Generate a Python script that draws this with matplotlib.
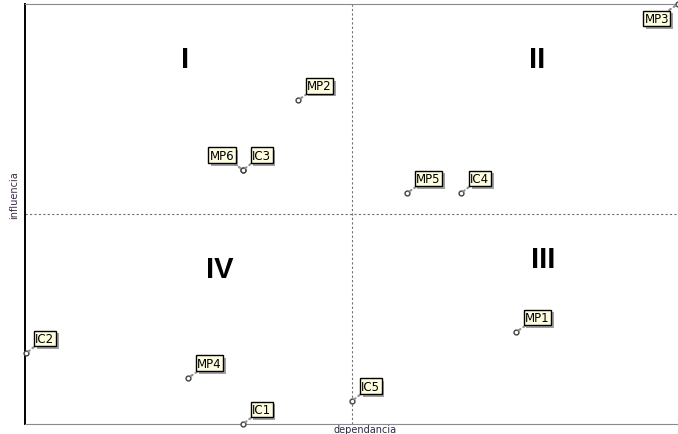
import matplotlib
matplotlib.use("Agg")
from matplotlib import pyplot as plt
from matplotlib import patheffects as pe

# positions sur le plan influence / dependance (echelle 0-100)
noms = ["MP3", "MP2", "MP6", "IC3", "MP5", "IC4", "MP1", "IC2", "MP4", "IC5", "IC1"]
dependance = [100.0, 41.8, 33.4, 33.4, 58.5, 66.8, 75.2, 0.2, 25.0, 50.1, 33.4]
influence = [100.0, 77.1, 60.5, 60.5, 55.0, 55.0, 21.9, 16.9, 11.0, 5.5, 0.0]
# cote de l'etiquette : droite (1) ou gauche (-1), haut (1) ou bas (-1)
cote_x = [-1, 1, -1, 1, 1, 1, 1, 1, 1, 1, 1]
cote_y = [-1, 1, 1, 1, 1, 1, 1, 1, 1, 1, 1]

quadrants = ["I", "II", "III", "IV"]
quad_x = [24.5, 78.5, 79.3, 29.9]
quad_y = [87.0, 87.0, 39.3, 37.0]

plt.rcParams['font.family'] = ['DejaVu Sans']

fig = plt.figure(figsize=(6.78, 4.35), dpi=100)
ax = fig.add_axes([25/678, 10/435, 653/678, 420/435])
ax.set_xlim(0, 100)
ax.set_ylim(0, 100)
ax.set_xticks([])
ax.set_yticks([])

ax.spines['left'].set_linewidth(1.4)
ax.spines['left'].set_color('black')
ax.spines['bottom'].set_color('#8a8a8a')
ax.spines['top'].set_color('#8a8a8a')
ax.spines['right'].set_visible(False)

# axes des quadrants
ax.axvline(50, color='#707070', linestyle=(0, (2, 2)), linewidth=0.8)
ax.axhline(50, color='#707070', linestyle=(0, (2, 2)), linewidth=0.8)

for q, qx, qy in zip(quadrants, quad_x, quad_y):
    ax.text(qx, qy, q, fontsize=21, fontweight='bold', ha='center', va='center',
            family='Liberation Sans')

ax.plot(dependance, influence, 'o', markersize=3.5, markerfacecolor='white',
        markeredgecolor='#404040', markeredgewidth=1, clip_on=False, zorder=5)

for n, x, y, cx, cy in zip(noms, dependance, influence, cote_x, cote_y):
    dx = 9 * cx
    dy = 8 * cy
    ha = 'left' if cx > 0 else 'right'
    va = 'bottom' if cy > 0 else 'top'
    t = ax.annotate(n, (x, y), xytext=(dx, dy), textcoords='offset pixels',
                    ha=ha, va=va, fontsize=8.5, color='black',
                    bbox=dict(boxstyle='square,pad=0.12', fc='#fffde0', ec='black', lw=1),
                    arrowprops=dict(arrowstyle='-', color='#909090', linestyle=':', lw=1.5,
                                    shrinkA=0, shrinkB=2),
                    annotation_clip=False, zorder=7)
    t.get_bbox_patch().set_path_effects([pe.SimplePatchShadow(offset=(2, -2), shadow_rgbFace='#8a8a8a', alpha=0.8),
                                         pe.Normal()])

fig.text(365/678, 0.0, "dependancia", ha='center', va='bottom',
         fontsize=7, color='#2a2a4a')
fig.text(14/678, 1 - 195/435, "influencia", ha='center', va='center',
         rotation=90, fontsize=7, color='#3a2a4a')

fig.savefig("out.png", dpi=100)
